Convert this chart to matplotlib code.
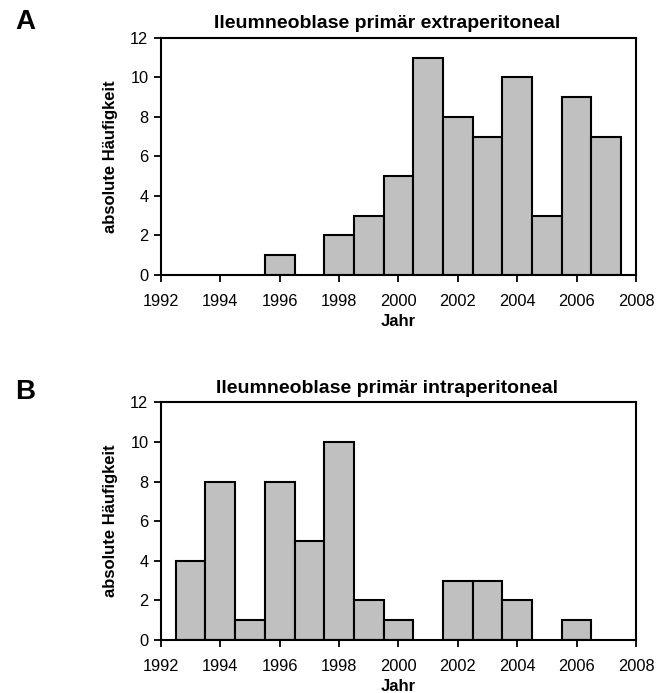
import matplotlib
matplotlib.use("Agg")
import matplotlib.pyplot as plt

plt.rcParams['font.family'] = ['Liberation Sans', 'DejaVu Sans']

years_a = [1996, 1998, 1999, 2000, 2001, 2002, 2003, 2004, 2005, 2006, 2007]
counts_a = [1, 2, 3, 5, 11, 8, 7, 10, 3, 9, 7]
years_b = [1993, 1994, 1995, 1996, 1997, 1998, 1999, 2000, 2002, 2003, 2004, 2006]
counts_b = [4, 8, 1, 8, 5, 10, 2, 1, 3, 3, 2, 1]
title_a = "Ileumneoblase primär extraperitoneal"
title_b = "Ileumneoblase primär intraperitoneal"
xticks = [1992, 1994, 1996, 1998, 2000, 2002, 2004, 2006, 2008]
yticks = [0, 2, 4, 6, 8, 10, 12]

fig = plt.figure(figsize=(6.57, 6.93), dpi=100)
ax_a = fig.add_axes([0.245, 0.6032, 0.723, 0.342])
ax_b = fig.add_axes([0.245, 0.0765, 0.723, 0.343])

for ax, yrs, cnt, title, letter, ly in [(ax_a, years_a, counts_a, title_a, "A", 0.968),
                                         (ax_b, years_b, counts_b, title_b, "B", 0.434)]:
    ax.bar(yrs, cnt, width=1.0, color="#c0c0c0", edgecolor="black", linewidth=1.5)
    ax.set_xlim(1992, 2008)
    ax.set_ylim(0, 12)
    ax.set_xticks(xticks)
    ax.set_yticks(yticks)
    ax.tick_params(direction="out", length=5, width=1.3, labelsize=11.8)
    ax.tick_params(axis="x", pad=8.5)
    ax.tick_params(axis="y", pad=4)
    for s in ax.spines.values():
        s.set_linewidth(1.5)
    ax.set_title(title, fontsize=14, fontweight="bold", pad=7, x=0.476)
    ax.set_xlabel("Jahr", fontsize=12, fontweight="bold", labelpad=3.5)
    ax.set_ylabel("absolute Häufigkeit", fontsize=12, fontweight="bold", labelpad=9)
    fig.text(0.023, ly, letter, fontsize=20, fontweight="bold",
             ha="left", va="center")

fig.savefig("out.png", dpi=100)
